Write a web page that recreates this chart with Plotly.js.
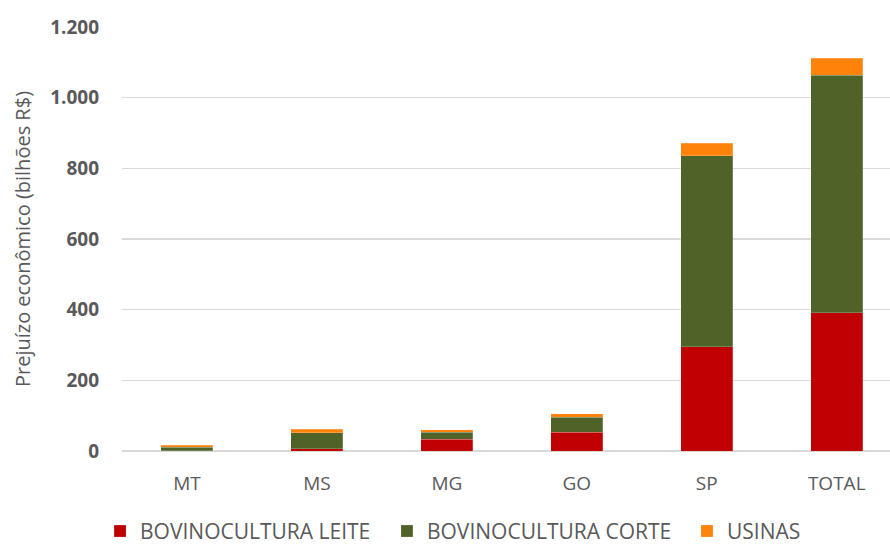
<!DOCTYPE html>
<html>
<head>
<meta charset="utf-8">
<script src="https://cdn.plot.ly/plotly-3.0.1.min.js"></script>
<style>html,body{margin:0;padding:0;background:#fff;}#chart{width:890px;height:545px;}</style>
</head>
<body>
<div id="chart"></div>
<script>
const categories = ["MT", "MS", "MG", "GO", "SP", "TOTAL"];
const leite = [1, 6, 33, 53, 295, 391];
const corte = [9, 46, 20, 43, 540, 672];
const usinas = [6, 10, 7, 9, 36, 48];
const seriesNames = ["BOVINOCULTURA LEITE", "BOVINOCULTURA CORTE", "USINAS"];
const yTicks = [0, 200, 400, 600, 800, 1000, 1200];

const colors = ["#C00000", "#4F6228", "#FF820A"];
const seriesValues = [leite, corte, usinas];
const legendIds = ["legend", "legend2", "legend3"];
const legendX = [0.1124, 0.4348, 0.7719];
const font = "Open Sans, sans-serif";

const traces = seriesValues.map((vals, i) => ({
  type: "bar",
  x: categories,
  y: vals,
  name: seriesNames[i],
  legend: legendIds[i],
  width: 0.4,
  marker: {color: colors[i], line: {width: 0.6, color: "rgba(255,255,255,0.35)"}},
  hoverinfo: "x+y+name"
}));

const layout = {
  width: 890, height: 545,
  margin: {l: 122, r: 0, t: 27, b: 94},
  barmode: "stack",
  separators: ",.",
  paper_bgcolor: "#fff", plot_bgcolor: "#fff",
  font: {family: font, color: "#595959"},
  xaxis: {
    type: "category",
    range: [-0.5, 5.41],
    tickfont: {size: 19, color: "#595959", family: font},
    ticklabelstandoff: 19,
    showgrid: false, zeroline: false, showline: false, ticks: "",
    automargin: false,
    fixedrange: true
  },
  yaxis: {
    range: [0, 1200],
    tickvals: yTicks,
    tickformat: ",d",
    tickfont: {size: 19, color: "#595959", family: font, weight: "bold"},
    ticklabelstandoff: 22,
    showgrid: true, gridcolor: "#D9D9D9", gridwidth: 1.5,
    zeroline: true, zerolinecolor: "#D9D9D9", zerolinewidth: 1.5,
    showline: false, ticks: "",
    automargin: false,
    title: {text: "Prejuízo econômico (bilhões R$)", font: {size: 20, color: "#595959", family: font}, standoff: 14},
    fixedrange: true
  },
  showlegend: true
};

legendIds.forEach((id, i) => {
  layout[id] = {
    orientation: "h",
    xref: "container", yref: "container",
    x: legendX[i], xanchor: "left",
    y: 0.025, yanchor: "middle",
    font: {size: 21, color: "#595959", family: font},
    itemwidth: 30,
    bgcolor: "rgba(0,0,0,0)"
  };
});

Plotly.newPlot("chart", traces, layout, {displayModeBar: false, staticPlot: true});
</script>
</body>
</html>
